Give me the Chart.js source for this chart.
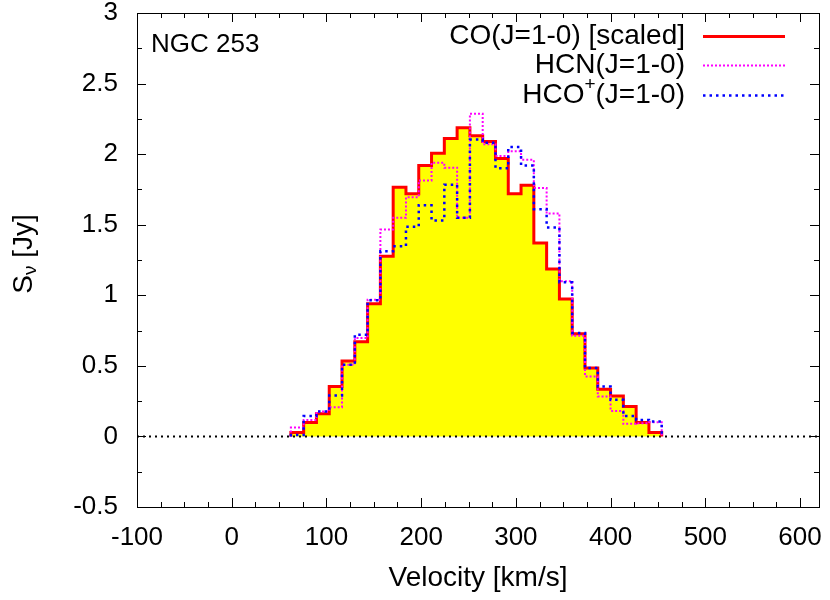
<!DOCTYPE html>
<html>
<head>
<meta charset="utf-8">
<script src="https://cdn.jsdelivr.net/npm/chart.js@4.4.1/dist/chart.umd.min.js"></script>
<style>
  html, body { margin: 0; padding: 0; background: #ffffff; }
  #wrap { width: 830px; height: 600px; }
</style>
</head>
<body>
<div id="wrap"><canvas id="specChart" width="830" height="600"></canvas></div>
<script>
// channel centres (km/s) and flux densities (Jy)
const velocity = [69.2, 82.7, 96.2, 109.7, 123.2, 136.7, 150.2, 163.7, 177.2, 190.7,
                  204.2, 217.7, 231.2, 244.7, 258.2, 271.7, 285.2, 298.7, 312.2, 325.7,
                  339.2, 352.7, 366.2, 379.7, 393.2, 406.7, 420.2, 433.7, 447.2];
const coFlux = [0.027, 0.098, 0.16, 0.353, 0.534, 0.67, 0.94, 1.276, 1.766, 1.72,
                1.92, 2.007, 2.11, 2.187, 2.13, 2.09, 1.97, 1.72, 1.78, 1.37,
                1.187, 0.974, 0.727, 0.484, 0.335, 0.287, 0.212, 0.098, 0.027];
const hcnFlux = [0.063, 0.117, 0.176, 0.207, 0.507, 0.697, 0.969, 1.466, 1.549, 1.695,
                 1.813, 1.939, 1.904, 1.549, 2.287, 2.07, 1.986, 2.02, 1.96, 1.76,
                 1.58, 1.10, 0.713, 0.425, 0.283, 0.181, 0.089, 0.094, 0.10];
const hcopFlux = [0.01, 0.145, 0.176, 0.29, 0.507, 0.72, 0.964, 1.312, 1.347, 1.485,
                  1.638, 1.53, 1.783, 1.549, 2.104, 2.08, 1.90, 2.05, 1.92, 1.61,
                  1.48, 1.092, 0.732, 0.484, 0.353, 0.259, 0.145, 0.117, 0.105];
const xRange = [-100, 620];
const yRange = [-0.5, 3];
const xTicks = [-100, 0, 100, 200, 300, 400, 500, 600];
const yTicks = [-0.5, 0, 0.5, 1, 1.5, 2, 2.5, 3];

const FONT = '"Liberation Sans", Arial, Helvetica, sans-serif';

// turn channel centres into histogram steps (gnuplot "histeps" look)
function histSteps(vals) {
    const n = velocity.length;
    const edges = [];
    for (let i = 0; i <= n; i++) {
        if (i === 0) edges.push(velocity[0] - (velocity[1] - velocity[0]) / 2);
        else if (i === n) edges.push(velocity[n - 1] + (velocity[n - 1] - velocity[n - 2]) / 2);
        else edges.push((velocity[i - 1] + velocity[i]) / 2);
    }
    const pts = [{ x: edges[0], y: 0 }];
    for (let i = 0; i < n; i++) pts.push({ x: edges[i], y: vals[i] });
    pts.push({ x: edges[n], y: 0 });
    return pts;
}

// frame, inward tick marks, tick labels, titles and gnuplot-style key
const decorations = {
    id: 'decorations',
    afterDraw(chart) {
        const ctx = chart.ctx;
        const a = chart.chartArea;
        const xs = chart.scales.x, ys = chart.scales.y;
        ctx.save();
        ctx.strokeStyle = '#000';
        ctx.lineWidth = 1;
        ctx.beginPath();
        // x ticks, minor every 25
        for (let v = xRange[0]; v <= xRange[1]; v += 25) {
            const px = Math.round(xs.getPixelForValue(v)) + 0.5;
            const len = (v % 100 === 0) ? 9 : 5;
            ctx.moveTo(px, a.bottom); ctx.lineTo(px, a.bottom - len);
            ctx.moveTo(px, a.top); ctx.lineTo(px, a.top + len);
        }
        // y ticks, minor every 0.25
        for (let v = yRange[0]; v <= yRange[1] + 1e-9; v += 0.25) {
            const py = Math.round(ys.getPixelForValue(v)) + 0.5;
            const len = (Math.abs(v * 2 - Math.round(v * 2)) < 1e-6) ? 9 : 5;
            ctx.moveTo(a.left, py); ctx.lineTo(a.left + len, py);
            ctx.moveTo(a.right, py); ctx.lineTo(a.right - len, py);
        }
        ctx.stroke();
        ctx.strokeRect(Math.round(a.left) + 0.5, Math.round(a.top) + 0.5,
                       Math.round(a.right - a.left), Math.round(a.bottom - a.top));

        ctx.fillStyle = '#000';
        ctx.textBaseline = 'middle';

        // tick labels
        ctx.font = '26px ' + FONT;
        ctx.textAlign = 'center';
        xTicks.forEach(v => ctx.fillText(String(v), xs.getPixelForValue(v), 538));
        ctx.textAlign = 'right';
        yTicks.forEach(v => ctx.fillText(String(v), 118, ys.getPixelForValue(v)));

        // x axis title
        ctx.font = '28px ' + FONT;
        ctx.textAlign = 'center';
        ctx.fillText('Velocity [km/s]', (a.left + a.right) / 2, 578);

        // y axis title with subscript nu
        ctx.save();
        ctx.translate(24, (a.top + a.bottom) / 2 - 6);
        ctx.rotate(-Math.PI / 2);
        ctx.font = '28px ' + FONT;
        const sW = ctx.measureText('S').width;
        ctx.font = '19px ' + FONT;
        const nuW = ctx.measureText('\u03bd').width;
        ctx.font = '28px ' + FONT;
        const restW = ctx.measureText(' [Jy]').width;
        let tx = -(sW + nuW + restW) / 2;
        ctx.textAlign = 'left';
        ctx.fillText('S', tx, 0);
        tx += sW;
        ctx.font = '19px ' + FONT;
        ctx.fillText('\u03bd', tx, 7);
        tx += nuW;
        ctx.font = '28px ' + FONT;
        ctx.fillText(' [Jy]', tx, 0);
        ctx.restore();

        // galaxy name
        ctx.font = '26px ' + FONT;
        ctx.textAlign = 'left';
        ctx.fillText('NGC 253', 151, 45);

        // key
        const textRight = 685, lineL = 703, lineR = 785;
        const rows = [36, 65, 95];
        ctx.font = '28px ' + FONT;
        ctx.textAlign = 'right';
        ctx.fillText('CO(J=1-0) [scaled]', textRight, rows[0]);
        ctx.fillText('HCN(J=1-0)', textRight, rows[1]);
        // HCO+ with superscript
        const tail = '(J=1-0)';
        const tailW = ctx.measureText(tail).width;
        ctx.fillText(tail, textRight, rows[2]);
        ctx.font = '19px ' + FONT;
        const plusW = ctx.measureText('+').width;
        ctx.textAlign = 'left';
        ctx.fillText('+', textRight - tailW - plusW, rows[2] - 10);
        ctx.font = '28px ' + FONT;
        ctx.textAlign = 'right';
        ctx.fillText('HCO', textRight - tailW - plusW, rows[2]);

        chart.data.datasets.slice(2).forEach((ds, i) => {
            ctx.beginPath();
            ctx.strokeStyle = ds.borderColor;
            ctx.lineWidth = ds.borderWidth;
            ctx.setLineDash(ds.borderDash || []);
            ctx.moveTo(lineL, rows[i] + 0.5);
            ctx.lineTo(lineR, rows[i] + 0.5);
            ctx.stroke();
        });
        ctx.restore();
    }
};

const ctx = document.getElementById('specChart').getContext('2d');
new Chart(ctx, {
    type: 'line',
    data: {
        datasets: [
            {
                // yellow area under CO
                data: histSteps(coFlux),
                stepped: 'before',
                borderWidth: 0,
                borderColor: 'rgba(0,0,0,0)',
                backgroundColor: '#ffff00',
                fill: 'origin',
                pointRadius: 0,
                order: 6
            },
            {
                // zero level
                data: [{ x: xRange[0], y: 0 }, { x: xRange[1], y: 0 }],
                borderColor: '#000000',
                borderWidth: 2,
                borderDash: [2, 4],
                pointRadius: 0,
                fill: false,
                order: 5
            },
            {
                label: 'CO(J=1-0) [scaled]',
                data: histSteps(coFlux),
                stepped: 'before',
                borderColor: '#ff0000',
                borderWidth: 3,
                pointRadius: 0,
                fill: false,
                order: 3
            },
            {
                label: 'HCN(J=1-0)',
                data: histSteps(hcnFlux),
                stepped: 'before',
                borderColor: '#ff00ff',
                borderWidth: 2,
                borderDash: [2, 2],
                pointRadius: 0,
                fill: false,
                order: 2
            },
            {
                label: 'HCO+(J=1-0)',
                data: histSteps(hcopFlux),
                stepped: 'before',
                borderColor: '#0000ff',
                borderWidth: 2.5,
                borderDash: [2.5, 4],
                pointRadius: 0,
                fill: false,
                order: 1
            }
        ]
    },
    options: {
        responsive: false,
        animation: false,
        layout: { padding: { left: 0, right: 11, top: 13, bottom: 0 } },
        scales: {
            x: {
                type: 'linear',
                min: xRange[0],
                max: xRange[1],
                afterBuildTicks: (scale) => { scale.ticks = xTicks.map(v => ({ value: v })); },
                afterFit: (scale) => { scale.height = 93; },
                ticks: { display: false },
                grid: { display: false },
                border: { display: false }
            },
            y: {
                type: 'linear',
                min: yRange[0],
                max: yRange[1],
                afterBuildTicks: (scale) => { scale.ticks = yTicks.map(v => ({ value: v })); },
                afterFit: (scale) => { scale.width = 137; },
                ticks: { display: false },
                grid: { display: false },
                border: { display: false }
            }
        },
        plugins: {
            legend: { display: false },
            tooltip: { enabled: false },
            filler: { drawTime: 'beforeDatasetsDraw' }
        }
    },
    plugins: [decorations]
});
</script>
</body>
</html>
